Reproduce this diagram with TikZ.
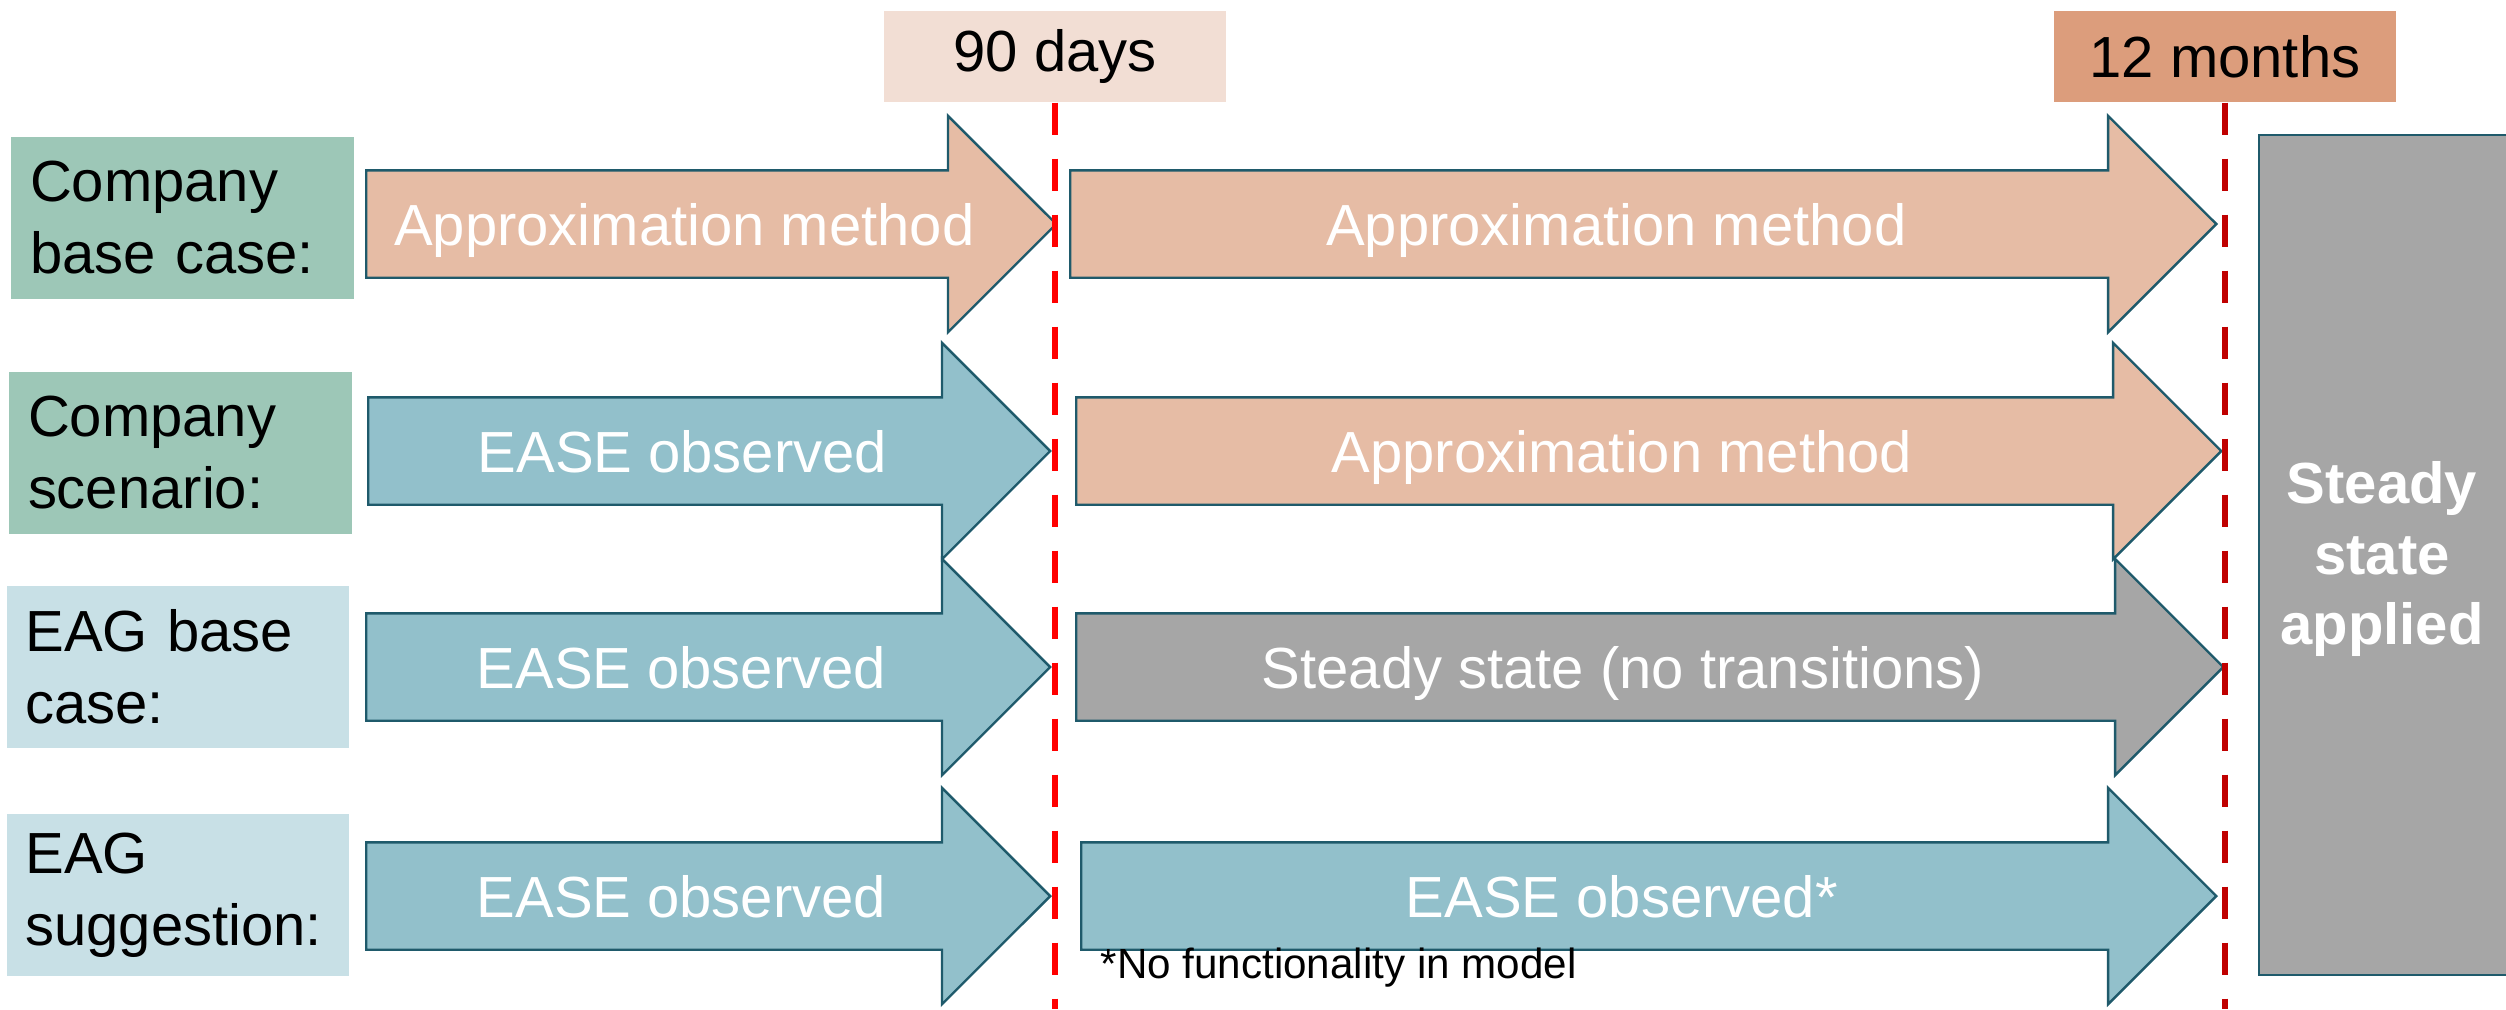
\documentclass[tikz,border=0pt]{standalone}
\usepackage{fontspec}
\setmainfont{Liberation Sans}
\usetikzlibrary{shapes.arrows}

\definecolor{labgreen}{RGB}{157,199,183}
\definecolor{labblue}{RGB}{200,224,230}
\definecolor{approx}{RGB}{230,188,165}
\definecolor{ease}{RGB}{146,192,203}
\definecolor{steady}{RGB}{166,166,166}
\definecolor{rim}{RGB}{31,90,107}
\definecolor{daysbg}{RGB}{242,222,212}
\definecolor{monthsbg}{RGB}{220,157,124}
\definecolor{redA}{RGB}{255,0,0}
\definecolor{redB}{RGB}{192,0,0}

\begin{document}
\begin{tikzpicture}
  [every node/.style={font=\fontsize{16.5}{19}\selectfont},
   lab/.style={rectangle,minimum width=3.42cm,minimum height=1.62cm,text width=3.05cm,
               align=left,inner xsep=0.185cm,font=\fontsize{16.5}{20.5}\selectfont},
   bar/.style={single arrow,draw=rim,line width=0.7pt,text=white,anchor=tail,
               single arrow head extend=0.545cm,text height=0.5cm,text depth=0.08cm,
               inner ysep=0.235cm,inner xsep=0pt},
   stamp/.style={rectangle,minimum width=3.42cm,minimum height=0.91cm},
   cut/.style={line width=0.06cm,dash pattern=on 0.32cm off 0.24cm}]
    \useasboundingbox (0,0) rectangle (25.06,10.09);

    % scenario labels
    \node (cb) [lab,fill=labgreen] at (1.825,7.915) {Company\\base case:};
    \node (cs) [lab,fill=labgreen] at (1.805,5.56)  {Company\\scenario:};
    \node (eb) [lab,fill=labblue]  at (1.78,3.42)   {EAG base\\case:};
    \node (es) [lab,fill=labblue]  at (1.78,1.14)   {EAG\\suggestion:};

    % time points
    \node (d90) [stamp,fill=daysbg]   at (10.55,9.525) {90 days};
    \node (m12) [stamp,fill=monthsbg] at (22.25,9.525) {12 months};

    % arrows
    \foreach \nm/\x/\y/\len/\col/\txt in {
        cbA/3.65/7.85/6.90/approx/Approximation method,
        cbB/10.69/7.85/11.46/approx/Approximation method,
        csA/3.67/5.58/6.82/ease/EASE observed,
        csB/10.75/5.58/11.45/approx/Approximation method,
        ebA/3.65/3.42/6.84/ease/EASE observed,
        ebB/10.75/3.42/11.47/steady/Steady state (no transitions),
        esA/3.65/1.13/6.84/ease/EASE observed,
        esB/10.80/1.13/11.35/ease/EASE observed*}
      \node (\nm) [bar,fill=\col,minimum height=\len cm] at (\x,\y) {\txt};

    \node (ssbox) [rectangle,fill=steady,draw=rim,line width=0.7pt,minimum width=2.7cm,
                   minimum height=8.40cm,anchor=south west] at (22.58,0.33) {};
    \node (sstext) [font=\fontsize{16.5}{20}\selectfont\bfseries,text=white,align=center]
      at (23.82,4.50) {Steady\\state\\applied};

    \node (note) [font=\fontsize{12}{14}\selectfont,anchor=west,inner sep=0pt]
      at (11.0,0.41) {*No functionality in model};

    % cut-off lines
    \coordinate (d90foot) at (d90.south |- 0,0);
    \coordinate (m12foot) at (m12.south |- 0,0);
    \draw[cut,redA] (d90.south) -- (d90foot);
    \draw[cut,redB] (m12.south) -- (m12foot);
\end{tikzpicture}
\end{document}
